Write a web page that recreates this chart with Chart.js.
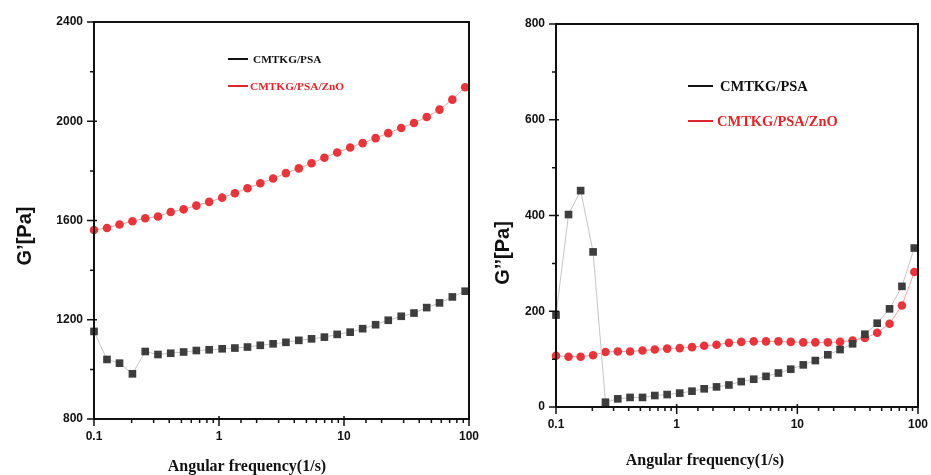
<!DOCTYPE html>
<html>
<head>
<meta charset="utf-8">
<script src="https://cdn.jsdelivr.net/npm/chart.js@4.4.1/dist/chart.umd.min.js"></script>
<style>
  body { margin: 0; background: #fff; }
  #wrap { position: relative; width: 931px; height: 475px; overflow: hidden; }
  canvas { position: absolute; top: 0; }
</style>
</head>
<body>
<div id="wrap">
  <canvas id="left" width="480" height="475" style="left:0"></canvas>
  <canvas id="right" width="451" height="475" style="left:480px"></canvas>
</div>
<script>
// angular frequency (1/s)
const freq = [0.1, 0.127, 0.160, 0.203, 0.257, 0.325, 0.411, 0.521, 0.659, 0.834,
  1.06, 1.34, 1.69, 2.14, 2.71, 3.43, 4.35, 5.50, 6.97, 8.82,
  11.2, 14.1, 17.9, 22.6, 28.7, 36.3, 45.9, 58.1, 73.6, 93.2];

// storage modulus G' [Pa]
const gPrimePSA = [1153, 1040, 1025, 982, 1072, 1060, 1065, 1070, 1076, 1079,
  1083, 1086, 1090, 1097, 1103, 1109, 1117, 1123, 1130, 1141,
  1150, 1164, 1180, 1198, 1214, 1227, 1249, 1268, 1292, 1315];
const gPrimeZnO = [1562, 1570, 1584, 1597, 1609, 1616, 1634, 1645, 1660, 1675,
  1692, 1710, 1730, 1750, 1769, 1791, 1810, 1831, 1853, 1874,
  1894, 1912, 1932, 1952, 1973, 1993, 2017, 2047, 2087, 2137];

// loss modulus G'' [Pa]
const gDoublePSA = [192, 402, 452, 324, 10, 17, 20, 20, 24, 26,
  29, 33, 38, 42, 46, 53, 58, 64, 71, 79,
  88, 97, 109, 120, 132, 152, 175, 205, 252, 332];
const gDoubleZnO = [107, 105, 105, 108, 115, 116, 116, 118, 120, 122,
  123, 125, 128, 130, 134, 136, 137, 137, 137, 136,
  135, 135, 135, 136, 139, 144, 155, 174, 212, 282];

const seriesNames = ["CMTKG/PSA", "CMTKG/PSA/ZnO"];
const xTitle = "Angular frequency(1/s)";

const pts = (ys) => freq.map((x, i) => ({ x: x, y: ys[i] }));

function isDecade(v) {
  const l = Math.log10(v);
  return Math.abs(l - Math.round(l)) < 1e-6;
}

function makeChart(id, o) {
  // frame, crossing ticks, titles and the inline legend
  const decor = {
    id: "decor",
    afterDraw(chart) {
      const ctx = chart.ctx;
      const a = chart.chartArea;
      const xs = chart.scales.x, ys = chart.scales.y;
      ctx.save();
      ctx.strokeStyle = "#111";
      ctx.lineWidth = 2;
      ctx.strokeRect(a.left, a.top, a.right - a.left, a.bottom - a.top);

      ctx.lineWidth = 1.5;
      ctx.beginPath();
      const yt = ys.ticks.map(t => t.value);
      yt.forEach((v, i) => {
        const y = ys.getPixelForValue(v);
        ctx.moveTo(a.left - 7, y); ctx.lineTo(a.left + 3, y);
        if (i < yt.length - 1) {
          const ym = ys.getPixelForValue((v + yt[i + 1]) / 2);
          ctx.moveTo(a.left - 4, ym); ctx.lineTo(a.left, ym);
        }
      });
      xs.ticks.forEach(t => {
        const x = xs.getPixelForValue(t.value);
        if (isDecade(t.value)) {
          ctx.moveTo(x, a.bottom - 3); ctx.lineTo(x, a.bottom + 7);
        } else {
          ctx.moveTo(x, a.bottom); ctx.lineTo(x, a.bottom + 4);
        }
      });
      ctx.stroke();

      // axis titles
      ctx.fillStyle = "#111";
      ctx.textAlign = "center";
      ctx.textBaseline = "middle";
      ctx.font = "bold 16px 'Liberation Serif', 'Times New Roman', serif";
      ctx.fillText(xTitle, o.xTitle[0], o.xTitle[1]);
      ctx.save();
      ctx.translate(o.yTitle[0], o.yTitle[1]);
      ctx.rotate(-Math.PI / 2);
      ctx.font = "bold 20px 'Liberation Sans', Arial, sans-serif";
      ctx.fillText(o.yLabel, 0, 0);
      ctx.restore();

      // legend
      ctx.textAlign = "left";
      ctx.font = "bold " + o.legFont + "px 'Liberation Serif', 'Times New Roman', serif";
      const cols = ["#111", "#e0262d"];
      seriesNames.forEach((n, i) => {
        const y = o.leg[1] + i * o.legGap;
        ctx.strokeStyle = cols[i];
        ctx.lineWidth = 2;
        ctx.beginPath();
        ctx.moveTo(o.leg[0], y); ctx.lineTo(o.leg[0] + o.legLine, y);
        ctx.stroke();
        ctx.fillStyle = cols[i];
        ctx.fillText(n, o.leg[0] + o.legLine + o.legTextGap[i], y + 1);
      });
      ctx.restore();
    }
  };

  const tickFont = { family: "'Liberation Sans', Arial, sans-serif", size: 12, weight: "bold" };

  return new Chart(document.getElementById(id), {
    type: "scatter",
    data: {
      datasets: [
        {
          label: seriesNames[0],
          data: pts(o.black),
          showLine: true,
          borderColor: "#c4c4c4",
          borderWidth: 1,
          pointStyle: "rect",
          pointRadius: 5.4,
          pointBackgroundColor: "#3d3d3d",
          pointBorderWidth: 0,
          clip: false
        },
        {
          label: seriesNames[1],
          data: pts(o.red),
          showLine: true,
          borderColor: "#f3a3a3",
          borderWidth: 1,
          pointStyle: "circle",
          pointRadius: 4.3,
          pointBackgroundColor: "#e8353b",
          pointBorderWidth: 0,
          clip: false
        }
      ]
    },
    options: {
      responsive: false,
      animation: false,
      layout: { padding: { top: o.top, right: o.right, left: 0, bottom: 0 } },
      plugins: { legend: { display: false }, tooltip: { enabled: false } },
      scales: {
        x: {
          type: "logarithmic",
          min: 0.1,
          max: 100,
          grid: { display: false, drawTicks: false },
          border: { display: false },
          afterFit: (s) => { s.height = o.xH; s.paddingLeft = 0; s.paddingRight = 0; },
          ticks: {
            autoSkip: false,
            maxRotation: 0,
            padding: 10,
            color: "#111",
            font: tickFont,
            callback: (v) => isDecade(v) ? (v < 1 ? "0.1" : String(Math.round(v))) : ""
          }
        },
        y: {
          min: o.yMin,
          max: o.yMax,
          grid: { display: false, drawTicks: false },
          border: { display: false },
          afterFit: (s) => { s.width = o.yW; s.paddingTop = 0; s.paddingBottom = 0; },
          ticks: {
            stepSize: o.step, padding: 11, color: "#111", font: tickFont,
            callback: (v) => String(v)
          }
        }
      }
    },
    plugins: [decor]
  });
}

makeChart("left", {
  black: gPrimePSA, red: gPrimeZnO,
  yMin: 800, yMax: 2400, step: 400,
  top: 22, right: 11, xH: 56, yW: 94,
  yLabel: "G\u2019[Pa]", yTitle: [25, 236], xTitle: [247, 467],
  leg: [228, 59], legGap: 27, legLine: 20, legTextGap: [5, 2], legFont: 11.3
});

makeChart("right", {
  black: gDoublePSA, red: gDoubleZnO,
  yMin: 0, yMax: 800, step: 200,
  top: 24, right: 13, xH: 68, yW: 76,
  yLabel: "G\u2019\u2019[Pa]", yTitle: [23, 253], xTitle: [225, 461],
  leg: [208, 86], legGap: 35, legLine: 25, legTextGap: [7, 4], legFont: 14.5
});
</script>
</body>
</html>
